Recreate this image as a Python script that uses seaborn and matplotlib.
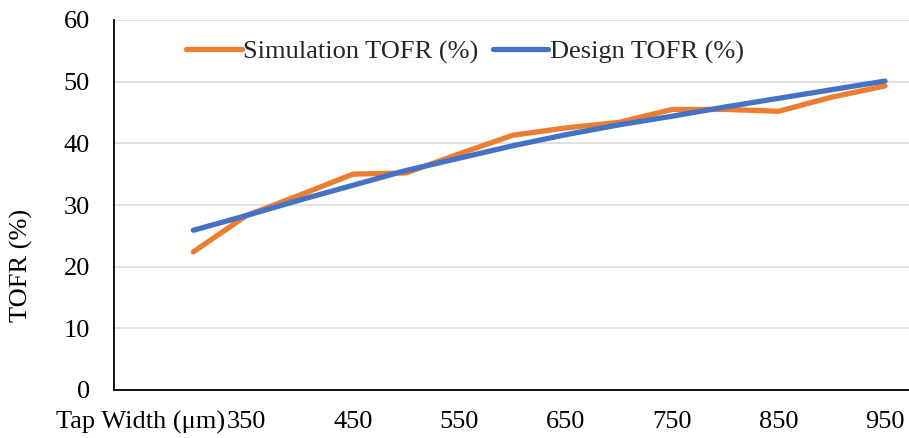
import matplotlib
matplotlib.use("Agg")
import matplotlib.pyplot as plt
import seaborn as sns
import pandas as pd

# Data
tap_width = [300, 350, 400, 450, 500, 550, 600, 650, 700, 750, 800, 850, 900, 950]
simulation_tofr = [22.4, 28.3, 31.6, 35.0, 35.2, 38.3, 41.3, 42.5, 43.4, 45.5, 45.5, 45.2, 47.5, 49.3]
design_tofr = [25.9, 28.3, 30.8, 33.2, 35.6, 37.6, 39.6, 41.4, 43.0, 44.4, 45.9, 47.3, 48.7, 50.1]
series_names = ["Simulation TOFR (%)", "Design TOFR (%)"]
tick_positions = [250, 350, 450, 550, 650, 750, 850, 950]
tick_labels = ["Tap Width (μm)", "350", "450", "550", "650", "750", "850", "950"]
y_ticks = [0, 10, 20, 30, 40, 50, 60]

df = pd.DataFrame({
    "Tap Width": tap_width * 2,
    "TOFR": simulation_tofr + design_tofr,
    "Series": [series_names[0]] * len(tap_width) + [series_names[1]] * len(tap_width),
})

sns.set_theme(style="white")
plt.rcParams["font.family"] = ["Liberation Serif", "DejaVu Serif"]

FS = 19

fig = plt.figure(figsize=(9.09, 4.38), dpi=100)
ax = fig.add_axes([113.5 / 909, 48 / 438, 1 - 113.5 / 909, 370 / 438])

palette = {series_names[0]: "#ED7D31", series_names[1]: "#4472C4"}
sns.lineplot(data=df, x="Tap Width", y="TOFR", hue="Series", palette=palette,
             linewidth=3.8, ax=ax, legend=True, zorder=3)
for ln in ax.get_lines():
    ln.set_solid_capstyle("round")
    ln.set_solid_joinstyle("round")

ax.set_xlim(225, 972.5)
ax.set_ylim(0, 60)
ax.set_yticks(y_ticks)
ax.set_yticklabels([str(v) for v in y_ticks])
ax.set_xticks(tick_positions)
ax.set_xticklabels(tick_labels)
ax.tick_params(axis="both", length=0, labelsize=FS, colors="black")
ax.tick_params(axis="y", pad=17)
ax.tick_params(axis="x", pad=15)
ax.set_xlabel("")
ax.set_ylabel("")

ax.yaxis.grid(True, color="#D9D9D9", linewidth=1.1)
ax.xaxis.grid(False)
ax.set_axisbelow(True)
for s in ["top", "right"]:
    ax.spines[s].set_visible(False)
for s in ["left", "bottom"]:
    ax.spines[s].set_color("black")
    ax.spines[s].set_linewidth(1.3)

handles, labels = ax.get_legend_handles_labels()
leg = ax.legend(handles, labels, loc="center", bbox_to_anchor=(0.442, 0.913),
                ncol=2, frameon=False, fontsize=FS, handlelength=2.1,
                handletextpad=0.05, columnspacing=0.55)
for lh in leg.get_lines():
    lh.set_linewidth(3.8)
    lh.set_solid_capstyle("round")

fig.text(21 / 909, 1 - 265 / 438, "TOFR (%)", rotation=90, ha="center", va="center",
         fontsize=FS, color="black")

fig.savefig("out.png", dpi=100)
